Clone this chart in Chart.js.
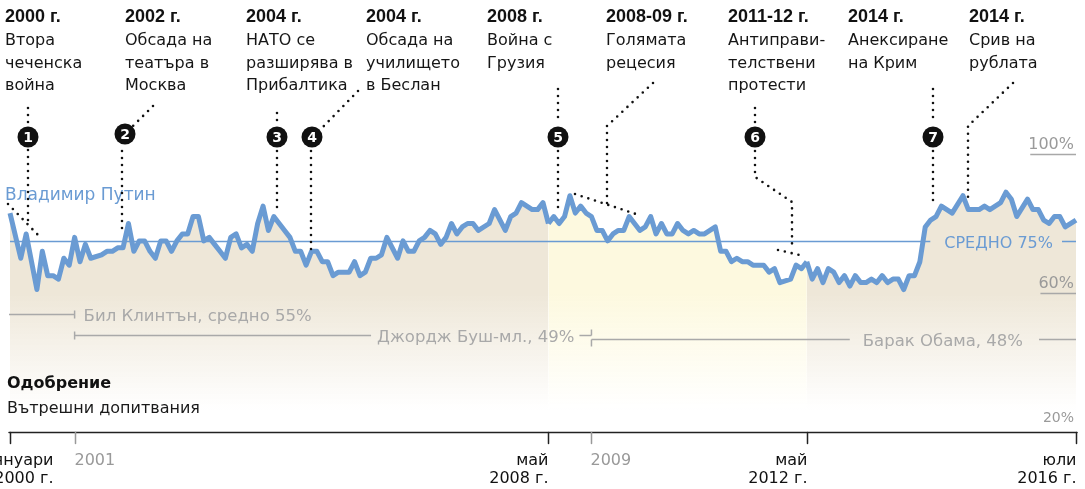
<!DOCTYPE html>
<html lang="bg">
<head>
<meta charset="utf-8">
<title>Одобрение за Путин</title>
<script src="https://cdn.jsdelivr.net/npm/chart.js@4.4.1/dist/chart.umd.min.js"></script>
<style>
  html, body { margin: 0; padding: 0; background: #fff; }
  #wrap { width: 1085px; height: 489px; }
</style>
</head>
<body>
<div id="wrap"><canvas id="approvalChart" width="1085" height="489"></canvas></div>
<script>
// month index counted from January 2000 (0) to July 2016 (198)
const months = [
  0, 2, 3, 5, 6, 7, 8, 9, 10, 11,
  12, 13, 14, 15, 17, 18, 19, 20, 21, 22,
  23, 24, 25, 26, 27, 28, 29, 30, 31, 32,
  33, 34, 35, 36, 37, 38, 39, 40, 41, 42,
  43, 44, 45, 46, 47, 48, 49, 50, 51, 52,
  53, 54, 55, 56, 57, 58, 59, 60, 61, 63,
  64, 65, 66, 67, 68, 69, 70, 72, 73, 74,
  75, 76, 77, 78, 79, 80, 81, 82, 83, 84,
  85, 86, 87, 89, 90, 92, 93, 94, 95, 96,
  97, 98, 99, 100, 101, 102, 103, 104, 105, 106,
  107, 108, 109, 110, 111, 112, 113, 114, 115, 116,
  117, 118, 119, 120, 121, 122, 123, 124, 125, 126,
  127, 128, 129, 131, 132, 133, 134, 135, 136, 137,
  138, 140, 141, 142, 143, 145, 146, 147, 148, 149,
  150, 151, 152, 153, 154, 155, 156, 157, 158, 159,
  160, 161, 162, 163, 164, 165, 166, 167, 168, 169,
  170, 171, 172, 173, 175, 177, 178, 180, 181, 182,
  183, 184, 185, 186, 187, 189, 190, 191, 192, 193,
  194, 195, 196, 198
];
// Putin approval, %
const approval = [
  83, 70, 77, 61, 72, 65, 65, 64, 70, 68,
  76, 69, 74, 70, 71, 72, 72, 73, 73, 80,
  72, 75, 75, 72, 70, 75, 75, 72, 75, 77,
  77, 82, 82, 75, 76, 74, 72, 70, 76, 77,
  73, 74, 72, 80, 85, 78, 82, 80, 78, 76,
  72, 72, 68, 72, 72, 69, 69, 65, 66, 66,
  69, 65, 66, 70, 70, 71, 76, 70, 75, 72,
  72, 75, 76, 78, 77, 74, 76, 80, 77, 79,
  80, 80, 78, 80, 84, 78, 82, 83, 86, 85,
  84, 84, 86, 80, 82, 80, 82, 88, 83, 85,
  83, 82, 78, 78, 75, 77, 78, 78, 82, 80,
  78, 79, 82, 77, 80, 77, 77, 80, 78, 77,
  78, 77, 77, 79, 72, 72, 69, 70, 69, 69,
  68, 68, 66, 67, 63, 64, 68, 67, 69, 64,
  67, 63, 67, 66, 63, 65, 62, 65, 63, 63,
  64, 63, 65, 63, 64, 64, 61, 65, 65, 69,
  79, 81, 82, 85, 83, 88, 84, 84, 85, 84,
  85, 86, 89, 87, 82, 87, 84, 84, 81, 80,
  82, 82, 79, 81
];

const average = 75;
const medvedevTerm = [100, 148]; // May 2008 - May 2012

const presidents = ['Бил Клинтън, средно 55%', 'Джордж Буш-мл., 49%', 'Барак Обама, 48%'];
const presidentAvg = [55, 49, 48];
const presidentTerms = [[0, 12], [12, 108], [108, 198]];

const yTicks = [100, 60, 20];
const axisTicks = [0, 100, 148, 198];
const axisLabels = [['януари', '2000 г.'], ['май', '2008 г.'], ['май', '2012 г.'], ['юли', '2016 г.']];
const usTicks = [12, 108];
const usLabels = ['2001', '2009'];

const eventYears = ['2000 г.', '2002 г.', '2004 г.', '2004 г.', '2008 г.', '2008-09 г.', '2011-12 г.', '2014 г.', '2014 г.'];
const eventTexts = [
  ['Втора', 'чеченска', 'война'],
  ['Обсада на', 'театъра в', 'Москва'],
  ['НАТО се', 'разширява в', 'Прибалтика'],
  ['Обсада на', 'училището', 'в Беслан'],
  ['Война с', 'Грузия'],
  ['Голямата', 'рецесия'],
  ['Антиправи-', 'телствени', 'протести'],
  ['Анексиране', 'на Крим'],
  ['Срив на', 'рублата'],
];

// layout of the annotation layer (pixels)
const eventColumns = [5, 125, 246, 366, 487, 606, 728, 848, 969];
const markers = [[28, 137], [125, 134], [277, 137], [312, 137], [558, 137], [755, 137], [933, 137]];
const leaders = [
  [[28, 108], [28, 124]], [[28, 150], [28, 222]], [[8, 204], [39, 236]],
  [[153, 106], [133, 126]], [[122, 151], [122, 231]],
  [[277, 113], [277, 124]], [[277, 151], [277, 214]],
  [[358, 91], [321, 129]], [[311, 151], [311, 256]],
  [[558, 89], [558, 124]], [[558, 151], [558, 214]],
  [[653, 83], [607, 126], [607, 205]], [[575, 194], [639, 215]],
  [[755, 108], [755, 124]], [[755, 151], [755, 177], [792, 202], [792, 244]], [[778, 250], [804, 256]],
  [[933, 89], [933, 124]], [[933, 151], [933, 207]],
  [[1013, 83], [968, 126], [968, 198]],
];

const BLUE = '#6a9bd3';
const GREY = '#a9a9a9';
const BEIGE = '238,231,216';
const YELLOW = '253,249,223';
const SANS = '"DejaVu Sans", sans-serif';
const HEAD = '"Liberation Sans", Arial, sans-serif';

const gradients = {};
function fade(chart, rgb) {
  const area = chart.chartArea;
  if (!area) return `rgb(${rgb})`;
  const key = rgb + area.top + area.bottom;
  if (!gradients[key]) {
    const g = chart.ctx.createLinearGradient(0, area.top, 0, area.bottom);
    g.addColorStop(0, `rgba(${rgb},1)`);
    g.addColorStop(0.5, `rgba(${rgb},1)`);
    g.addColorStop(0.92, `rgba(${rgb},0)`);
    gradients[key] = g;
  }
  return gradients[key];
}

function text(ctx, str, x, y, font, color, align) {
  ctx.font = font;
  ctx.fillStyle = color;
  ctx.textAlign = align || 'left';
  ctx.textBaseline = 'alphabetic';
  ctx.fillText(str, x, y);
  return ctx.measureText(str).width;
}

function line(ctx, x0, y0, x1, y1, color, width) {
  ctx.beginPath();
  ctx.strokeStyle = color;
  ctx.lineWidth = width;
  ctx.moveTo(x0, y0);
  ctx.lineTo(x1, y1);
  ctx.stroke();
}

const overlay = {
  id: 'overlay',
  beforeDatasetDraw(chart) {
    // average line sits on the fill, under the approval line
    const { ctx, scales: { x, y } } = chart;
    const ya = Math.round(y.getPixelForValue(average)) + 0.5;
    ctx.save();
    const w = text(ctx, `СРЕДНО ${average}%`, 1053, ya + 6, `16px ${SANS}`, BLUE, 'right');
    line(ctx, x.getPixelForValue(0), ya, 1053 - w - 14, ya, BLUE, 1.5);
    line(ctx, 1062, ya, x.getPixelForValue(198), ya, BLUE, 1.5);
    ctx.restore();
  },
  afterDatasetsDraw(chart) {
    const { ctx, scales: { x, y } } = chart;
    ctx.save();

    // presidents of the USA
    const font = `16.5px ${SANS}`;
    const by = presidentAvg.map((v) => Math.round(y.getPixelForValue(v)) + 4.5);
    const t = presidentTerms.map(([a, b]) => [x.getPixelForValue(a), x.getPixelForValue(b)]);
    // Clinton
    line(ctx, t[0][0] - 1, by[0], t[0][1], by[0], GREY, 1.5);
    line(ctx, t[0][1], by[0] - 4, t[0][1], by[0] + 4, GREY, 1.5);
    text(ctx, presidents[0], t[0][1] + 9, by[0] + 6, font, GREY);
    // Bush
    const wb = text(ctx, presidents[1], t[1][1] - 17, by[1] + 6, font, GREY, 'right');
    line(ctx, t[1][0], by[1] - 4, t[1][0], by[1] + 4, GREY, 1.5);
    line(ctx, t[1][0], by[1], t[1][1] - 17 - wb - 6, by[1], GREY, 1.5);
    line(ctx, t[1][1] - 12, by[1], t[1][1], by[1], GREY, 1.5);
    line(ctx, t[1][1], by[1] - 6, t[1][1], by[1], GREY, 1.5);
    // Obama
    const wo = text(ctx, presidents[2], t[2][1] - 53, by[2] + 6, font, GREY, 'right');
    line(ctx, t[2][0], by[2], t[2][0], by[2] + 7, GREY, 1.5);
    line(ctx, t[2][0], by[2], t[2][1] - 53 - wo - 13, by[2], GREY, 1.5);
    line(ctx, t[2][1] - 37, by[2], t[2][1], by[2], GREY, 1.5);

    // y labels
    yTicks.forEach((v) => {
      const py = y.getPixelForValue(v);
      const small = v === 20;
      const w = text(ctx, `${v}%`, 1074, py - (small ? 10 : 5), `${small ? 14 : 16}px ${SANS}`, '#9a9a9a', 'right');
      if (!small) line(ctx, 1074 - w + 2, Math.round(py) + 0.5, 1076, Math.round(py) + 0.5, '#a8a8a8', 1.5);
    });

    // series name
    text(ctx, 'Владимир Путин', 5, 200, `17px ${SANS}`, BLUE);

    // dotted leaders
    ctx.strokeStyle = '#111';
    ctx.lineWidth = 2.6;
    ctx.lineCap = 'round';
    ctx.setLineDash([0, 7]);
    leaders.forEach((pts) => {
      ctx.beginPath();
      pts.forEach(([px, py], i) => (i ? ctx.lineTo(px, py) : ctx.moveTo(px, py)));
      ctx.stroke();
    });
    ctx.setLineDash([]);

    // numbered markers
    markers.forEach(([mx, my], i) => {
      ctx.beginPath();
      ctx.fillStyle = '#111';
      ctx.arc(mx, my, 10.5, 0, Math.PI * 2);
      ctx.fill();
      ctx.font = `bold 14px ${SANS}`;
      ctx.fillStyle = '#fff';
      ctx.textAlign = 'center';
      ctx.textBaseline = 'middle';
      ctx.fillText(String(i + 1), mx, my + 1);
    });

    // event captions
    eventColumns.forEach((cx, i) => {
      text(ctx, eventYears[i], cx, 22, `bold 18px ${HEAD}`, '#111');
      eventTexts[i].forEach((row, r) => text(ctx, row, cx, 45 + r * 22.5, `16px ${SANS}`, '#161616'));
    });

    // caption bottom left
    text(ctx, 'Одобрение', 7, 388, `bold 16px ${SANS}`, '#111');
    text(ctx, 'Вътрешни допитвания', 7, 413, `16px ${SANS}`, '#1a1a1a');

    // time axis
    const ay = Math.round(y.getPixelForValue(20)) + 0.5;
    line(ctx, x.getPixelForValue(0) - 1, ay, x.getPixelForValue(198) + 1, ay, '#222', 1.5);
    usTicks.forEach((m, i) => {
      const px = Math.round(x.getPixelForValue(m)) + 0.5;
      line(ctx, px, ay, px, ay + 11, '#999', 1.5);
      text(ctx, usLabels[i], px - 1, 465, `16px ${SANS}`, '#999');
    });
    axisTicks.forEach((m, i) => {
      const px = Math.round(x.getPixelForValue(m)) + 0.5;
      line(ctx, px, ay, px, ay + 11, '#222', 1.5);
      const lx = i === 0 ? px + 43 : px;
      text(ctx, axisLabels[i][0], lx, 465, `16px ${SANS}`, '#111', 'right');
      text(ctx, axisLabels[i][1], lx, 483, `16px ${SANS}`, '#111', 'right');
    });

    ctx.restore();
  },
};

new Chart(document.getElementById('approvalChart'), {
  type: 'line',
  data: {
    datasets: [{
      data: months.map((m, i) => ({ x: m, y: approval[i] })),
      borderColor: BLUE,
      borderWidth: 5,
      borderJoinStyle: 'round',
      pointRadius: 0,
      tension: 0,
      fill: 'start',
      clip: false,
      backgroundColor: (ctx) => fade(ctx.chart, BEIGE),
      segment: {
        backgroundColor: (ctx) => (ctx.p0.parsed.x >= medvedevTerm[0] && ctx.p0.parsed.x < medvedevTerm[1]
          ? fade(ctx.chart, YELLOW) : undefined),
      },
    }],
  },
  options: {
    responsive: false,
    animation: false,
    devicePixelRatio: 1,
    layout: { padding: { left: 10, right: 9, top: 154, bottom: 57 } },
    scales: {
      x: { type: 'linear', min: 0, max: 198, display: false },
      y: { min: 20, max: 100, display: false },
    },
    plugins: { legend: { display: false }, tooltip: { enabled: false } },
  },
  plugins: [overlay],
});
</script>
</body>
</html>
